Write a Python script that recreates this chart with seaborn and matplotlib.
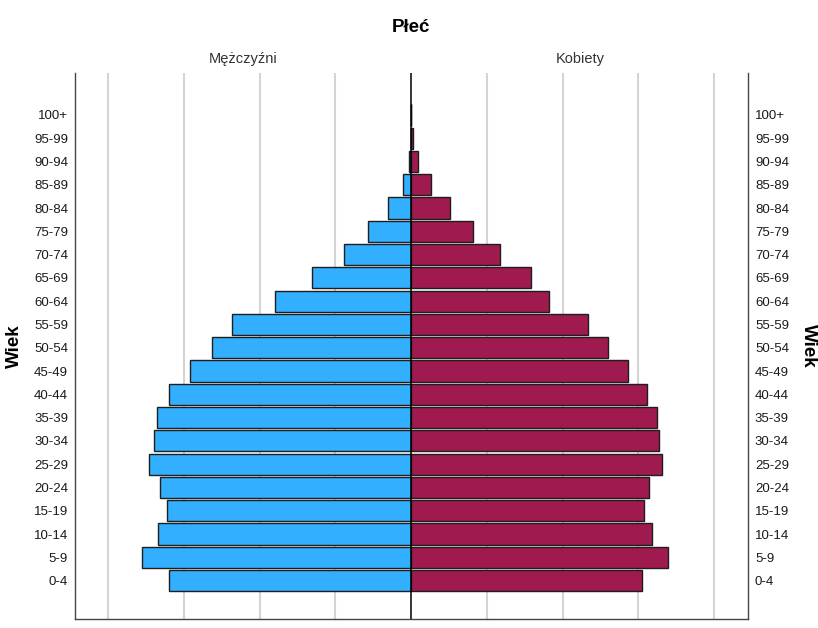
import matplotlib
matplotlib.use("Agg")
import matplotlib.pyplot as plt
import seaborn as sns
import pandas as pd

# --- data (top to bottom) ---
age_groups = ["100+", "95-99", "90-94", "85-89", "80-84", "75-79", "70-74",
              "65-69", "60-64", "55-59", "50-54", "45-49", "40-44", "35-39",
              "30-34", "25-29", "20-24", "15-19", "10-14", "5-9", "0-4"]
men = [0.002, 0.006, 0.03, 0.11, 0.31, 0.57, 0.89, 1.31, 1.80, 2.36, 2.63,
       2.92, 3.20, 3.36, 3.40, 3.46, 3.32, 3.23, 3.35, 3.56, 3.20]
women = [0.003, 0.03, 0.09, 0.26, 0.52, 0.82, 1.18, 1.59, 1.82, 2.33, 2.60,
         2.87, 3.12, 3.25, 3.28, 3.31, 3.14, 3.07, 3.18, 3.39, 3.05]
sex_labels = ["Mężczyźni", "Kobiety"]
title = "Płeć"
axis_label = "Wiek"

df = pd.concat([
    pd.DataFrame({"Wiek": age_groups, "val": [-v for v in men], "Płeć": sex_labels[0]}),
    pd.DataFrame({"Wiek": age_groups, "val": women, "Płeć": sex_labels[1]}),
], ignore_index=True)

sns.set_style("white")
plt.rcParams["font.family"] = ["Liberation Sans", "DejaVu Sans"]

fig = plt.figure(figsize=(8.18, 6.28), dpi=100)
ax = fig.add_axes([75 / 818, 9 / 628, (748 - 75) / 818, (619 - 73) / 628])

sns.barplot(data=df, y="Wiek", x="val", hue="Płeć", order=age_groups,
            hue_order=sex_labels, palette=["#32AFFF", "#9F1A4E"],
            saturation=1, dodge=False, orient="h", width=0.91,
            edgecolor="#1e1e1e", linewidth=1.0, legend=False, ax=ax, zorder=2)

ax.set_xlim(-4.44, 4.45)
ax.set_ylim(21.65, -1.8)
ax.set_xticks([-4, -3, -2, -1, 1, 2, 3, 4])
ax.set_xticklabels([])
ax.grid(axis="x", color="#d4d4d4", linewidth=1.5)
ax.grid(axis="y", visible=False)
ax.set_axisbelow(True)
ax.axvline(0, color="black", linewidth=1.1, zorder=5)
ax.set_xlabel("")
ax.set_ylabel("")
ax.tick_params(axis="both", length=0, pad=5, labelsize=9.5, labelcolor="#1a1a1a")

for side in ["left", "bottom", "right"]:
    ax.spines[side].set_visible(True)
    ax.spines[side].set_color("#444444")
    ax.spines[side].set_linewidth(1.0)
ax.spines["top"].set_visible(False)

ax2 = ax.twinx()
ax2.set_ylim(ax.get_ylim())
ax2.set_yticks(range(len(age_groups)))
ax2.set_yticklabels(age_groups)
ax2.tick_params(axis="y", length=0, pad=5, labelsize=9.5, labelcolor="#1a1a1a")
for s in ax2.spines.values():
    s.set_visible(False)

fig.text(411 / 818, 1 - 27 / 628, title, ha="center", va="center",
         fontsize=13.5, fontweight="bold", color="black")
fig.text(243 / 818, 1 - 59 / 628, sex_labels[0], ha="center", va="center",
         fontsize=10.5, color="#333333")
fig.text(580 / 818, 1 - 59 / 628, sex_labels[1], ha="center", va="center",
         fontsize=10.5, color="#333333")
fig.text(14 / 818, 1 - 346 / 628, axis_label, ha="center", va="center",
         rotation=90, fontsize=13.5, fontweight="bold", color="black")
fig.text(808 / 818, 1 - 346 / 628, axis_label, ha="center", va="center",
         rotation=270, fontsize=13.5, fontweight="bold", color="black")

fig.savefig("out.png", dpi=100)
